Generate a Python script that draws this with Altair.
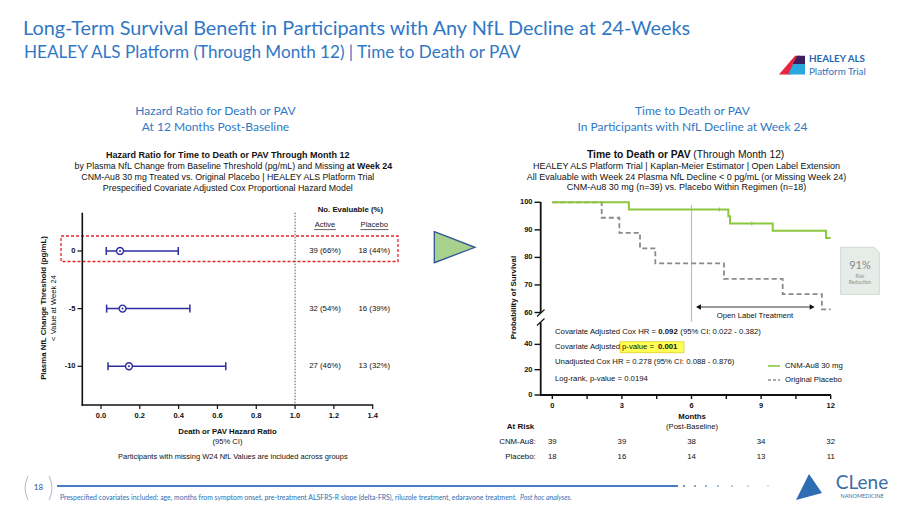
import altair as alt
import pandas as pd

# ----------------------------- data ---------------------------------
nfl_threshold = [0, -5, -10]
hr_estimate = [0.098, 0.111, 0.144]
hr_ci_low = [0.027, 0.029, 0.036]
hr_ci_high = [0.398, 0.458, 0.643]
evaluable_active = ["39 (66%)", "32 (54%)", "27 (46%)"]
evaluable_placebo = ["18 (44%)", "16 (39%)", "13 (32%)"]
hr_reference = 1.0
hr_axis_ticks = [0.0, 0.2, 0.4, 0.6, 0.8, 1.0, 1.2, 1.4]
threshold_axis_ticks = [0, -5, -10]

km_active_month = [0, 3.3, 7.59, 7.66, 9.5, 11.8, 12.0]
km_active_surv = [100, 97.4, 94.9, 92.3, 89.7, 87.0, 87.0]
km_active_censor_month = [7.2, 8.6]
km_active_censor_surv = [97.4, 92.3]
km_placebo_month = [0, 2.13, 2.89, 3.78, 4.44, 7.4, 9.93, 11.62, 12.0]
km_placebo_surv = [100, 94.4, 88.9, 83.3, 77.8, 72.2, 66.7, 61.1, 61.1]
week24_month = 6
week24_span = [58, 99]
open_label_months = [6.3, 11.2]
open_label_level = 62
km_y_ticks = [0, 20, 40, 60, 70, 80, 90, 100]
km_x_ticks = [0, 1.5, 3, 4.5, 6, 7.5, 9, 10.5, 12]
risk_month = [0, 3, 6, 9, 12]
risk_active = [39, 39, 38, 34, 32]
risk_placebo = [18, 16, 14, 13, 11]

# ----------------------------- style ---------------------------------
CH = "Liberation Sans"
SL = "Lato"
INK = "#111111"
BLUE = "#3078C5"
NAVY = "#2D2D9F"
GREEN = "#8CC63F"
GRAY = "#8A8A8A"


def P(v):
    return v - 8


ONE = pd.DataFrame({"k": [0]})

FX = alt.Scale(domain=[-0.1, 1.4], range=[P(81.6), P(372.7)], nice=False, zero=False)
FY = alt.Scale(domain=[-13.36, 3.32], range=[P(405), P(212.7)], nice=False, zero=False)
KX = alt.Scale(domain=[-0.5, 12], range=[P(540.7), P(830.7)], nice=False, zero=False)
KY = alt.Scale(domain=[0, 58, 60, 100], range=[P(395), P(321.6), P(312.5), P(202.3)],
               nice=False, zero=False)


def T(s, x, y, size=7.8, bold=False, color=INK, align="center", font=CH, angle=None,
      italic=False, opacity=1):
    kw = dict(text=s, fontSize=size, fontWeight="bold" if bold else "normal", color=color,
              align=align, baseline="middle", font=font, opacity=opacity)
    if angle is not None:
        kw["angle"] = angle
    if italic:
        kw["fontStyle"] = "italic"
    return alt.Chart(ONE).mark_text(**kw).encode(x=alt.value(P(x)), y=alt.value(P(y)))


def LN(x1, y1, x2, y2, color=INK, sw=1.0, dash=None, opacity=1):
    kw = dict(color=color, strokeWidth=sw, opacity=opacity)
    if dash:
        kw["strokeDash"] = dash
    return alt.Chart(ONE).mark_rule(**kw).encode(
        x=alt.value(P(x1)), y=alt.value(P(y1)), x2=alt.value(P(x2)), y2=alt.value(P(y2)))


def RECT(x1, x2, y1, y2, **kw):
    return alt.Chart(ONE).mark_rect(**kw).encode(
        x=alt.value(P(x1)), x2=alt.value(P(x2)), y=alt.value(P(y1)), y2=alt.value(P(y2)))


def SHAPE(pts, fill, stroke=None, sw=1.0, opacity=1):
    path = "M" + " L".join(f"{P(a):.1f},{P(b):.1f}" for a, b in pts) + " Z"
    kw = dict(shape=path, size=4, filled=True, fill=fill, opacity=opacity)
    if stroke:
        kw["stroke"] = stroke
        kw["strokeWidth"] = sw
    else:
        kw["strokeWidth"] = 0
    return alt.Chart(ONE).mark_point(**kw).encode(x=alt.value(0), y=alt.value(0))


def PATH(d, stroke, sw=1.0):
    return alt.Chart(ONE).mark_point(shape=d, size=4, filled=False, stroke=stroke,
                                     strokeWidth=sw, opacity=1).encode(
        x=alt.value(0), y=alt.value(0))


layers = []

# ----------------------------- slide header -------------------------
layers += [
    T("Long-Term Survival Benefit in Participants with Any NfL Decline at 24-Weeks", 23, 29,
      size=19.85, color=BLUE, align="left", font=SL),
    T("HEALEY ALS Platform (Through Month 12) | Time to Death or PAV", 24, 53,
      size=17.1, color=BLUE, align="left", font=SL),
    SHAPE([(779, 74.5), (795, 55.7), (800, 55.7), (791, 74.5)], "#E8253A"),
    SHAPE([(797, 55.7), (805, 55.7), (805, 64), (793, 64)], "#3B1E5E"),
    SHAPE([(793, 64), (805, 64), (805, 74.5), (788, 74.5)], "#2AA7DF"),
    T("HEALEY ALS", 809, 59.3, size=9.8, bold=True, color="#1D68B3", align="left", font=SL),
    T("Platform Trial", 809, 72, size=9.8, color="#2D74BE", align="left", font=SL),
    T("Hazard Ratio for Death or PAV", 215.5, 111, size=12, color=BLUE, font=SL),
    T("At 12 Months Post-Baseline", 215.5, 126.5, size=12, color=BLUE, font=SL),
    T("Time to Death or PAV", 692.5, 111, size=12, color=BLUE, font=SL),
    T("In Participants with NfL Decline  at Week 24", 692.5, 126.5, size=12, color=BLUE, font=SL),
    SHAPE([(434.3, 231.7), (475, 247.3), (434.3, 262.7)], "#A9D18E", stroke="#2F5597", sw=1.3),
]

# ----------------------------- forest panel --------------------------
layers += [
    T("Hazard Ratio for Time to Death or PAV Through Month 12", 227.8, 155, size=9, bold=True),
    T("by Plasma NfL Change from Baseline Threshold (pg/mL) and Missing", 344.5, 165.7,
      size=8.8, align="right"),
    T("at Week 24", 346.8, 165.7, size=8.8, bold=True, align="left"),
    T("CNM-Au8 30 mg Treated  vs. Original Placebo | HEALEY ALS Platform Trial", 227.8, 176.5,
      size=8.8),
    T("Prespecified Covariate Adjusted Cox Proportional Hazard Model", 227.8, 187.7, size=8.8),
    RECT(61, 398, 236, 261.5, fillOpacity=0, stroke="#E3242B", strokeWidth=1.3,
         strokeDash=[3, 2]),
    T("No. Evaluable (%)", 350.4, 209.5, bold=True),
    T("Active", 325, 225, size=7.6, color="#222222"),
    T("Placebo", 374.3, 225, size=7.6, color="#222222"),
    LN(314, 229.6, 336, 229.6, color="#222222", sw=0.7),
    LN(360.5, 229.6, 388.5, 229.6, color="#222222", sw=0.7),
]

df_f = pd.DataFrame(dict(t=nfl_threshold, est=hr_estimate, lo=hr_ci_low, hi=hr_ci_high,
                         na=evaluable_active, npl=evaluable_placebo))
fx = lambda f: alt.X(f, type="quantitative", scale=FX, axis=None)
fy = lambda f: alt.Y(f, type="quantitative", scale=FY, axis=None)

layers += [
    alt.Chart(ONE).mark_rule(color="#555555", strokeWidth=1, strokeDash=[1.5, 1.5]).encode(
        x=alt.X(datum=hr_reference, type="quantitative", scale=FX, axis=None),
        y=alt.value(P(212.7)), y2=alt.value(P(405))),
    alt.Chart(df_f).mark_rule(color=NAVY, strokeWidth=1.5).encode(x=fx("lo"), x2="hi", y=fy("t")),
    alt.Chart(df_f).mark_tick(orient="vertical", size=8, thickness=1.5, color=NAVY, opacity=1).encode(
        x=fx("lo"), y=fy("t")),
    alt.Chart(df_f).mark_tick(orient="vertical", size=8, thickness=1.5, color=NAVY, opacity=1).encode(
        x=fx("hi"), y=fy("t")),
    alt.Chart(df_f).mark_point(shape="circle", size=48, filled=True, fill="white", stroke=NAVY,
                               strokeWidth=1.4, opacity=1).encode(x=fx("est"), y=fy("t")),
    alt.Chart(df_f).mark_point(shape="circle", size=4, filled=True, color=NAVY, opacity=1).encode(
        x=fx("est"), y=fy("t")),
    alt.Chart(df_f).mark_text(fontSize=7.8, font=CH, color=INK, baseline="middle").encode(
        x=alt.value(P(325)), y=fy("t"), text="na:N"),
    alt.Chart(df_f).mark_text(fontSize=7.8, font=CH, color=INK, baseline="middle").encode(
        x=alt.value(P(374.3)), y=fy("t"), text="npl:N"),
]

df_fxt = pd.DataFrame(dict(v=hr_axis_ticks, lab=[f"{v:.1f}" for v in hr_axis_ticks]))
df_fyt = pd.DataFrame(dict(v=threshold_axis_ticks, lab=[str(v) for v in threshold_axis_ticks]))
layers += [
    LN(82.3, 212.7, 82.3, 405.7, sw=1.6),
    LN(81.5, 405, 373.2, 405, sw=1.6),
    alt.Chart(df_fxt).mark_rule(color=INK, strokeWidth=1.2).encode(
        x=fx("v"), y=alt.value(P(405)), y2=alt.value(P(409))),
    alt.Chart(df_fxt).mark_text(fontSize=7.5, fontWeight="bold", font=CH, color=INK,
                                baseline="middle").encode(
        x=fx("v"), y=alt.value(P(416)), text="lab:N"),
    alt.Chart(df_fyt).mark_rule(color=INK, strokeWidth=1.2).encode(
        y=fy("v"), x=alt.value(P(77.5)), x2=alt.value(P(82))),
    alt.Chart(df_fyt).mark_text(fontSize=7.5, fontWeight="bold", font=CH, color=INK,
                                baseline="middle", align="right").encode(
        y=fy("v"), x=alt.value(P(75.5)), text="lab:N"),
    T("Plasma NfL Change Threshold (pg/mL)", 43.5, 308, size=7.8, bold=True, angle=270),
    T("< Value at Week 24", 53.5, 308, size=7.6, angle=270),
    T("Death or PAV Hazard Ratio", 227.5, 431.5, size=7.8, bold=True),
    T("(95% CI)", 227.5, 441.5, size=7.6),
    T("Participants with missing W24 NfL Values are included across groups", 232.8, 457,
      size=7.5),
]

# ----------------------------- KM panel ------------------------------
kx = lambda f: alt.X(f, type="quantitative", scale=KX, axis=None)
ky = lambda f: alt.Y(f, type="quantitative", scale=KY, axis=None)

layers += [
    T("Time to Death or PAV", 690.5, 155, size=10.3, bold=True, align="right"),
    T("(Through Month 12)", 693.3, 155, size=10.3, align="left"),
    T("HEALEY ALS Platform Trial | Kaplan-Meier Estimator | Open Label Extension", 686.5, 166,
      size=9),
    T("All Evaluable with Week 24 Plasma NfL Decline < 0 pg/mL (or Missing Week 24)", 686.5,
      176.7, size=9),
    T("CNM-Au8 30 mg (n=39) vs. Placebo Within Regimen (n=18)", 686.5, 187.3, size=9),
]

df_ka = pd.DataFrame(dict(m=km_active_month, s=km_active_surv))
df_kp = pd.DataFrame(dict(m=km_placebo_month, s=km_placebo_surv))
df_kc = pd.DataFrame(dict(m=km_active_censor_month, s=km_active_censor_surv))
df_ol = pd.DataFrame(dict(m=open_label_months, s=[open_label_level] * 2,
                          shp=["triangle-left", "triangle-right"]))

layers += [
    alt.Chart(ONE).mark_rule(color="#BDBDBD", strokeWidth=1.2).encode(
        x=alt.X(datum=week24_month, type="quantitative", scale=KX, axis=None),
        y=alt.Y(datum=week24_span[0], type="quantitative", scale=KY, axis=None),
        y2=alt.Y2(datum=week24_span[1])),
    alt.Chart(df_kp).mark_line(interpolate="step-after", color=GRAY, strokeWidth=1.8,
                               strokeDash=[5, 3]).encode(x=kx("m"), y=ky("s")),
    alt.Chart(df_ka).mark_line(interpolate="step-after", color=GREEN, strokeWidth=2).encode(
        x=kx("m"), y=ky("s")),
    alt.Chart(df_kc).mark_tick(orient="vertical", size=4, thickness=1, color=GREEN,
                               opacity=1).encode(x=kx("m"), y=ky("s")),
    alt.Chart(df_ol).mark_rule(color="#333333", strokeWidth=1).encode(
        x=alt.X("min(m):Q", scale=KX, axis=None), x2="max(m):Q",
        y=alt.Y("mean(s):Q", scale=KY, axis=None)),
    alt.Chart(df_ol).mark_point(filled=True, color="#111111", size=32, opacity=1).encode(
        x=kx("m"), y=ky("s"), shape=alt.Shape("shp:N", scale=None, legend=None)),
    T("Open Label Treatment", 755, 315.7, size=7.7),
]

df_kyt = pd.DataFrame(dict(v=km_y_ticks, lab=[str(v) for v in km_y_ticks]))
df_kxt = pd.DataFrame(dict(v=km_x_ticks,
                           lab=[str(int(v)) if v % 3 == 0 else "" for v in km_x_ticks]))
layers += [
    LN(540.7, 202, 540.7, 312.5, sw=1.8),
    LN(540.7, 322.5, 540.7, 395.8, sw=1.8),
    LN(537, 316.5, 544.5, 309.5, sw=1.1),
    LN(537, 325.5, 544.5, 318.5, sw=1.1),
    LN(540, 395, 831, 395, sw=1.8),
    alt.Chart(df_kyt).mark_rule(color=INK, strokeWidth=1.4).encode(
        y=ky("v"), x=alt.value(P(534.5)), x2=alt.value(P(540.7))),
    alt.Chart(df_kyt).mark_text(fontSize=7.5, fontWeight="bold", font=CH, color=INK,
                                baseline="middle", align="right").encode(
        y=ky("v"), x=alt.value(P(532.5)), text="lab:N"),
    alt.Chart(df_kxt).mark_rule(color=INK, strokeWidth=1.4).encode(
        x=kx("v"), y=alt.value(P(395)), y2=alt.value(P(399))),
    alt.Chart(df_kxt).mark_text(fontSize=7.5, fontWeight="bold", font=CH, color=INK,
                                baseline="middle").encode(
        x=kx("v"), y=alt.value(P(405.5)), text="lab:N"),
    T("Probability of Survival", 513.5, 297.5, size=7.9, bold=True, angle=270),
    T("Months", 692, 416.7, size=7.8, bold=True),
    T("(Post-Baseline)", 692, 427, size=7.6),
]

# statistics annotations
layers += [
    RECT(620, 684, 341.7, 352.7, fill="#FFFF55", stroke="#D9C000", strokeWidth=0.6),
    T("Covariate Adjusted Cox HR =", 555, 332.3, size=7.75, align="left"),
    T("0.092", 658.3, 332.3, size=7.75, bold=True, align="left"),
    T("(95% CI: 0.022 - 0.382)", 680.3, 332.3, size=7.75, align="left"),
    T("Covariate Adjusted", 555, 347.3, size=7.75, align="left"),
    T("p-value =", 622, 347.3, size=7.75, align="left"),
    T("0.001", 658, 347.3, size=7.75, bold=True, align="left"),
    T("Unadjusted Cox HR =  0.278 (95% CI: 0.088 - 0.876)", 555, 362.3, size=7.75,
      align="left"),
    T("Log-rank, p-value = 0.0194", 555, 379, size=7.75, align="left"),
    LN(768, 366, 780, 366, color=GREEN, sw=1.6),
    LN(768, 380, 780, 380, color=GRAY, sw=1.4, dash=[3, 2]),
    T("CNM-Au8 30 mg", 785, 366, size=7.75, align="left"),
    T("Original Placebo", 785, 380, size=7.75, align="left"),
]

# at risk table
df_risk = pd.DataFrame(dict(m=risk_month, a=risk_active, p=risk_placebo))
layers += [
    T("At Risk", 534.3, 426.7, size=8, bold=True, align="right"),
    T("CNM-Au8:", 535.7, 442.3, size=7.8, align="right"),
    T("Placebo:", 535.7, 456.7, size=7.8, align="right"),
    alt.Chart(df_risk).mark_text(fontSize=7.8, font=CH, color=INK, baseline="middle").encode(
        x=kx("m"), y=alt.value(P(442.3)), text="a:N"),
    alt.Chart(df_risk).mark_text(fontSize=7.8, font=CH, color=INK, baseline="middle").encode(
        x=kx("m"), y=alt.value(P(456.7)), text="p:N"),
]

# 91% box
layers += [
    SHAPE([(840.7, 247.3), (874, 247.3), (879.3, 252.6), (879.3, 294.3), (840.7, 294.3)],
          "#E6ECE8", stroke="#D0D9D4", sw=1),
    T("91%", 860, 266, size=11, color="#7E8A8C", font=SL),
    T("Risk", 860, 275.7, size=5, color="#8A9496", font=SL),
    T("Reduction", 860, 282.3, size=5, color="#8A9496", font=SL),
]

# ----------------------------- footer --------------------------------
dots_x = [684, 695, 706, 718, 732, 748, 768]
layers += [
    PATH(f"M{P(28)},{P(476)} Q{P(22)},{P(488)} {P(28)},{P(500)}", "#A9BBDA", 1),
    PATH(f"M{P(49)},{P(476)} Q{P(55)},{P(488)} {P(49)},{P(500)}", "#A9BBDA", 1),
    T("18", 38.5, 488, size=8, color="#1F4E9A", font=SL),
    LN(57, 486, 678, 486, color="#4A7CC3", sw=2.2),
] + [
    alt.Chart(ONE).mark_point(shape="circle", filled=True, color="#5B7FB5", size=5,
                              opacity=max(0.25, 1 - i * 0.12)).encode(
        x=alt.value(P(x)), y=alt.value(P(486)))
    for i, x in enumerate(dots_x)
] + [
    T("Prespecified covariates included: age, months from symptom onset, pre-treatment "
      "ALSFRS-R slope (delta-FRS), riluzole treatment, edaravone treatment.", 60, 497.5,
      size=6.9, color="#2E6DB4", align="left", font=SL),
    T("Post hoc analyses.", 520, 497.5, size=6.9, color="#2E6DB4", align="left", font=SL,
      italic=True),
    SHAPE([(796, 500), (809, 474), (822, 493)], "#2E6DB4"),
    T("CLene", 862, 483, size=19, color="#3B6EA5", font=SL),
    T("NANOMEDICINE", 862, 495.5, size=5.5, color="#3B6EA5", font=SL),
]

chart = alt.layer(*layers).resolve_scale(x="independent", y="independent").properties(
    width=884, height=497, autosize=alt.AutoSizeParams(type="none"), padding=0,
    background="white").configure_view(stroke=None)

chart.save("out.html", embed_options={"renderer": "svg", "actions": False})
